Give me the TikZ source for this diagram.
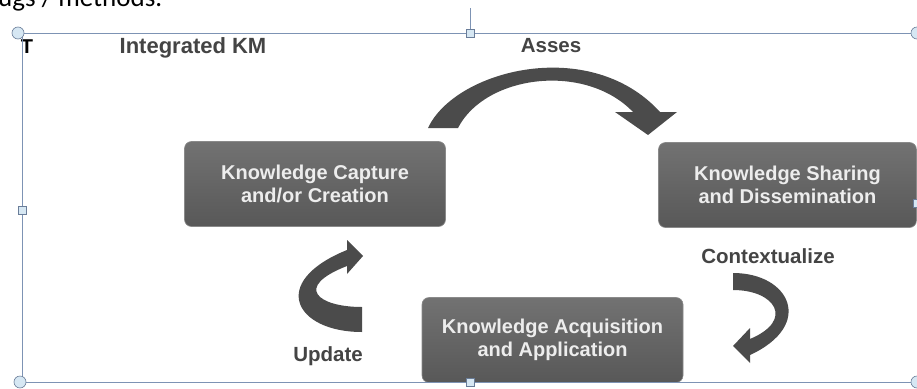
\documentclass[tikz,border=0pt]{standalone}
\usepackage{fontspec}
\setmainfont{Liberation Sans}
\newfontfamily\notefont{Carlito}
\usetikzlibrary{positioning}

\definecolor{boxtop}{HTML}{727272}
\definecolor{boxbot}{HTML}{585858}
\definecolor{boxtext}{HTML}{EDEDED}
\definecolor{labelgray}{HTML}{444444}
\definecolor{arrowgray}{HTML}{4B4B4B}
\definecolor{selline}{HTML}{7D93B4}
\definecolor{handlefill}{HTML}{D6E7F3}

\begin{document}
\begin{tikzpicture}[x=1pt,y=-1pt,
  kmbox/.style={rounded corners=7pt, top color=boxtop, bottom color=boxbot,
    draw=boxbot!70!white, line width=0.6pt, minimum width=261pt,
    minimum height=85pt, align=center, text=boxtext, inner sep=0pt,
    font=\fontsize{20}{23}\selectfont\bfseries},
  steplabel/.style={text=labelgray, inner sep=0pt, anchor=base,
    font=\fontsize{20.5}{23}\selectfont\bfseries},
  bandarrow/.style={fill=arrowgray, draw=none},
  selhandle/.style={draw=selline!85!black, fill=handlefill, line width=0.6pt}]
\clip (0,0) rectangle (917,388);
\fill[white] (0,0) rectangle (917,388);

% text of the slide above, cut off
\node[anchor=base west, inner sep=0pt, font=\notefont\fontsize{27}{30}\selectfont]
  (note) at (-2,6) {ugs / methods.};

% the three boxes
\node[kmbox] (capture) at (315,184) {Knowledge Capture\\and/or Creation};
\node[kmbox, minimum width=258pt] (sharing) at (787.5,185) {Knowledge Sharing\\and Dissemination};
\node[kmbox] (acquire) at (552.5,340) {Knowledge Acquisition\\and Application};

% labels
\node[inner sep=0pt, anchor=base, font=\fontsize{20}{23}\selectfont\bfseries] (tee) at (27,53) {T};
\node[steplabel, font=\fontsize{22}{26}\selectfont\bfseries] (title) at (193,53) {Integrated KM};
\node[steplabel] (asses) at (551,52) {Asses};
\node[steplabel] (context) at (768,263) {Contextualize};
\node[steplabel] (update) at (328,361) {Update};

% asses arrow
\fill[bandarrow] (428,128) .. controls (455,70) and (590,35) .. (660,112)
  -- (677,112) -- (648,135) -- (615,112) -- (633,112)
  .. controls (585,62) and (485,75) .. (458,128) -- cycle;

% contextualize arrow
\fill[bandarrow] (733,273) .. controls (790,273) and (815,325) .. (750,355)
  -- (750,363) -- (733,346) -- (750,328) -- (750,339)
  .. controls (795,320) and (775,290) .. (733,290) -- cycle;

% update arrow
\fill[bandarrow] (362,332) .. controls (295,332) and (268,282) .. (347,250)
  -- (347,240) -- (363,256) -- (347,274) -- (347,266)
  .. controls (293,287) and (318,307) .. (362,307) -- cycle;

% selection frame
\draw[selline, line width=1pt] (18,33) -- (917,33);
\draw[selline, line width=1pt] (22,33) -- (22,382) -- (917,382);
\draw[selline, line width=1pt] (470,8) -- (470,29);
\draw[selhandle] (18,33) circle (6);
\draw[selhandle] (917,33) circle (6);
\draw[selhandle] (20,382) circle (6);
\draw[selhandle] (917,382) circle (6);
\draw[selhandle] (466,29) rectangle (474,37);
\draw[selhandle] (466,378) rectangle (474,386);
\draw[selhandle] (18,206) rectangle (26,214);
\draw[selhandle] (913,199) rectangle (921,207);
\end{tikzpicture}
\end{document}
